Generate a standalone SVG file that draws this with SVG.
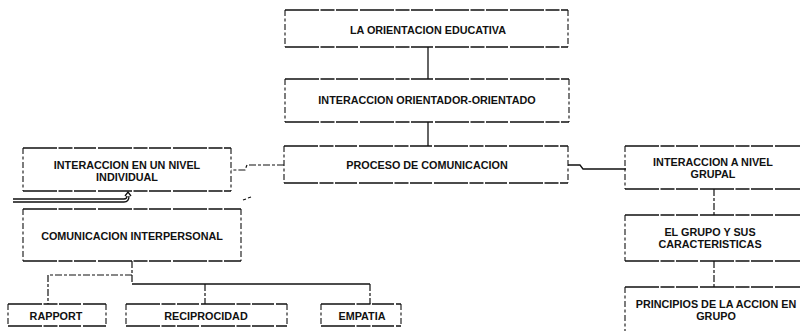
<svg xmlns="http://www.w3.org/2000/svg" width="800" height="331" viewBox="0 0 800 331">
<style>
.h{fill:none;stroke:#111;stroke-width:1.6;stroke-dasharray:34 1.5 14 1.5 22 2}
.v{fill:none;stroke:#111;stroke-width:1.1;stroke-dasharray:6 2.5 3 2.5}
.c{fill:none;stroke:#111;stroke-width:1.3}
.cd{fill:none;stroke:#111;stroke-width:1.2;stroke-dasharray:7 2 3 2}
text{font-family:"Liberation Sans",Arial,sans-serif;font-weight:bold;font-size:10.8px;fill:#111;text-anchor:middle}
</style>
<rect width="800" height="331" fill="#fff"/>
<g id="connectors">
<path class="c" d="M428,47 V79"/>
<path class="c" d="M428,122 V146"/>
<path class="cd" d="M284,165 H247 L245,170 H231"/>
<path class="c" d="M568,165 H580 L583,169 H626"/>
<path class="cd" d="M714,189 V215"/>
<path class="cd" d="M714,261 V287"/>
<path class="c" d="M13,199 H124 Q127,199 127,196"/>
<path class="c" d="M13,202 H124 Q129,202 129,196"/>
<path class="c" d="M125,196 L128,192 L131,196"/>
<path class="cd" d="M132,261 V284"/>
<path class="cd" d="M132,275 H48 V304"/>
<path class="c" d="M132,284 H370"/>
<path class="cd" d="M205,284 V304"/>
<path class="cd" d="M370,284 V304"/>
<path class="c" d="M243,200 L246,199 M248,198 L251,197"/>
</g>
<g id="n1">
<path class="h" d="M285,10 H568 M285,47 H568"/>
<path class="v" d="M285,10 V47"/><path class="v" d="M568,10 V47"/>
<text x="428" y="34">LA ORIENTACION EDUCATIVA</text>
</g>
<g id="n2">
<path class="h" d="M285,79 H569 M285,122 H569"/>
<path class="v" d="M285,79 V122"/><path class="v" d="M569,79 V122"/>
<text x="427" y="104">INTERACCION ORIENTADOR-ORIENTADO</text>
</g>
<g id="n3">
<path class="h" d="M284,146 H568 M284,183 H568"/>
<path class="v" d="M284,146 V183"/><path class="v" d="M568,146 V183"/>
<text x="427" y="169">PROCESO DE COMUNICACION</text>
</g>
<g id="n4">
<path class="h" d="M23,148 H231 M23,191 H231"/>
<path class="v" d="M23,148 V191"/><path class="v" d="M231,148 V191"/>
<text x="127" y="169">INTERACCION EN UN NIVEL</text>
<text x="127" y="181">INDIVIDUAL</text>
</g>
<g id="n5">
<path class="h" d="M23,209 H241 M23,261 H241"/>
<path class="v" d="M23,209 V261"/><path class="v" d="M241,209 V261"/>
<text x="132" y="240">COMUNICACION INTERPERSONAL</text>
</g>
<g id="n6">
<path class="h" d="M8,304 H106 M8,326 H106"/>
<path class="v" d="M8,304 V326"/><path class="v" d="M106,304 V326"/>
<text x="56" y="320">RAPPORT</text>
</g>
<g id="n7">
<path class="h" d="M126,304 H287 M126,326 H287"/>
<path class="v" d="M126,304 V326"/><path class="v" d="M287,304 V326"/>
<text x="206" y="320">RECIPROCIDAD</text>
</g>
<g id="n8">
<path class="h" d="M321,304 H401 M321,326 H401"/>
<path class="v" d="M321,304 V326"/><path class="v" d="M401,304 V326"/>
<text x="362" y="320">EMPATIA</text>
</g>
<g id="n9">
<path class="h" d="M625,146 H802 M625,189 H802"/>
<path class="v" d="M625,146 V189"/>
<text x="713" y="166">INTERACCION A NIVEL</text>
<text x="713" y="178">GRUPAL</text>
</g>
<g id="n10">
<path class="h" d="M625,215 H802 M625,261 H802"/>
<path class="v" d="M625,215 V261"/>
<text x="710" y="236">EL GRUPO Y SUS</text>
<text x="710" y="248">CARACTERISTICAS</text>
</g>
<g id="n11">
<path class="h" d="M625,287 H802"/>
<path class="v" d="M625,287 V332"/>
<text x="716" y="308">PRINCIPIOS DE LA ACCION EN</text>
<text x="716" y="320">GRUPO</text>
</g>
</svg>
